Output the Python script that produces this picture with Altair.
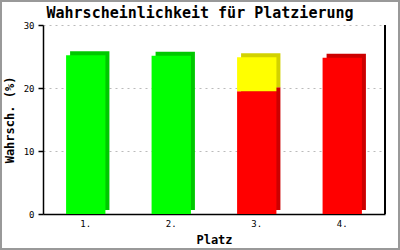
import altair as alt
import pandas as pd

places = ["1.", "2.", "3.", "3.", "4."]
segments = ["gruen", "gruen", "rot", "gelb", "rot"]
values = [25.2, 25.1, 19.5, 5.4, 24.8]
order = [1, 1, 1, 2, 1]
front_colors = {"gruen": "#00ff00", "gelb": "#ffff00", "rot": "#ff0000"}
side_colors = {"gruen": "#00c800", "gelb": "#d2d200", "rot": "#cc0000"}
y_ticks = [0, 10, 20, 30]

df = pd.DataFrame({
    "Platz": places,
    "seg": segments,
    "wert": values,
    "ord": order,
})
df["front"] = df["seg"].map(front_colors)
df["side"] = df["seg"].map(side_colors)

W, H = 342, 189
FONT = "DejaVu Sans Mono"

x_enc = alt.X("Platz:N", sort=["1.", "2.", "3.", "4."],
              scale=alt.Scale(paddingInner=0.54, paddingOuter=0.27),
              axis=alt.Axis(title="Platz", labelAngle=0, ticks=False,
                            domainColor="black", domainWidth=1.5,
                            labelFont=FONT, labelFontSize=9, labelColor="black",
                            labelPadding=5, titleFont=FONT, titleFontSize=12,
                            titleFontWeight="bold", titleColor="black",
                            titlePadding=6, grid=False))
y_enc = alt.Y("wert:Q", stack="zero",
              scale=alt.Scale(domain=[0, 30], nice=False),
              axis=alt.Axis(title="Wahrsch. (%)", values=y_ticks, format="d",
                            domainColor="black", domainWidth=1.5,
                            tickColor="black", tickSize=5, tickWidth=1.5,
                            labelFont=FONT, labelFontSize=9, labelColor="black",
                            labelPadding=4, titleFont=FONT, titleFontSize=12,
                            titleFontWeight="bold", titleColor="black",
                            titlePadding=7,
                            grid=True, gridColor="#bbbbbb", gridDash=[2, 4],
                            gridWidth=1))

side = alt.Chart(df).mark_bar(xOffset=4, yOffset=-4, x2Offset=4, y2Offset=-4).encode(
    x=x_enc, y=y_enc,
    color=alt.Color("side:N", scale=None),
    order=alt.Order("ord:Q"),
)
front = alt.Chart(df).mark_bar().encode(
    x=x_enc, y=y_enc,
    color=alt.Color("front:N", scale=None),
    order=alt.Order("ord:Q"),
)
right_line = alt.Chart(df).mark_rule(color="black", strokeWidth=1.5).encode(
    x=alt.value(W), y=alt.value(0), y2=alt.value(H)
)
frame = alt.Chart(df).mark_rect(fill=None, stroke="#999999", strokeWidth=2).encode(
    x=alt.value(-42), x2=alt.value(W + 14), y=alt.value(-24), y2=alt.value(H + 35)
)

chart = alt.layer(side, front, right_line, frame).properties(
    width=W, height=H,
    title=alt.TitleParams("Wahrscheinlichkeit für Platzierung", font=FONT,
                          fontSize=15, fontWeight="bold", color="black",
                          anchor="middle", frame="group", offset=-21, dx=-14),
    autosize=alt.AutoSizeParams(type="none"),
    padding={"left": 43, "top": 25, "right": 15, "bottom": 36},
    background="white",
).configure_view(stroke=None)

chart.save("out.html", embed_options={"renderer": "svg", "actions": False})
